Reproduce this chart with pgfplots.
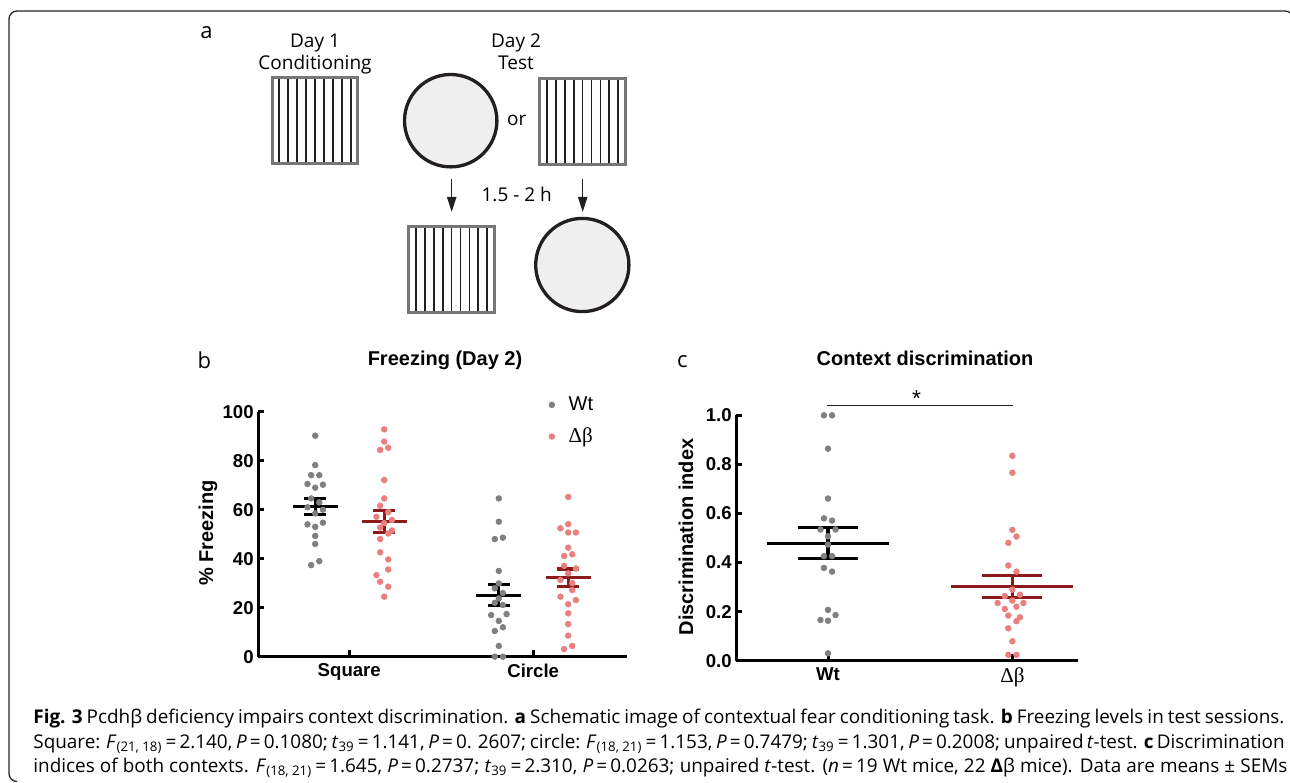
\documentclass[border=0pt]{standalone}
\usepackage{fontspec}
\setmainfont{Open Sans}
\newfontfamily\arial{Liberation Sans}
\newfontfamily\tnr{Liberation Serif}
\usepackage{pgfplots}
\pgfplotsset{compat=1.18}
\usetikzlibrary{arrows.meta}

\definecolor{wtgrey}{RGB}{128,128,128}
\definecolor{dbpink}{RGB}{233,128,128}
\definecolor{dbred}{RGB}{139,26,26}
\definecolor{boxgrey}{RGB}{118,118,118}
\definecolor{circfill}{RGB}{239,239,239}
\definecolor{ink}{RGB}{35,31,32}

\pgfplotsset{
  panel/.style={
    scale only axis, clip=false,
    axis x line=bottom, axis y line=left,
    axis line style={-, line width=1.5pt},
    tick align=inside, major tick length=3.2pt,
    tick style={black, line width=1.5pt},
    tick label style={font=\arial\bfseries\fontsize{9.3}{10}\selectfont},
    yticklabel style={inner sep=0pt, xshift=-2pt},
    xticklabel style={inner sep=0pt, yshift=-3.3pt},
    label style={font=\arial\bfseries\fontsize{10}{12}\selectfont},
  },
  wt/.style={only marks, mark=*, mark size=1.4pt, color=wtgrey, mark options={draw=none, fill=wtgrey}},
  db/.style={only marks, mark=*, mark size=1.4pt, color=dbpink, mark options={draw=none, fill=dbpink}},
  bar/.style={line width=1.55pt, forget plot},
}

\newcommand\stripebox[2]{%
  \foreach \k in {0,...,8} \draw[ink, line width=0.9pt] ({#1+7.1+\k*8.92},#2) -- ({#1+7.1+\k*8.92},{#2+85.6});
  \draw[boxgrey, line width=1.5pt] (#1,#2) rectangle ++(85.6,85.6);
}

\begin{document}
\begin{tikzpicture}
\path[use as bounding box] (0,0) rectangle (645pt,391pt);

% frame, schematic and labels (image pixel coordinates)
\begin{scope}[x=0.5pt, y=-0.5pt, yshift=391pt]
  \draw[black!85, line width=0.65pt, rounded corners=4pt] (16,781.5) -| (9,11) -| (1293,30);

  \stripebox{272.2}{77.5}
  \stripebox{539.8}{78.8}
  \stripebox{408.8}{226.8}
  \draw[ink, line width=1.65pt, fill=circfill] (450.7,120.7) circle[radius=46.2];
  \draw[ink, line width=1.65pt, fill=circfill] (582.3,265) circle[radius=46.6];
  \draw[ink, line width=0.7pt, -{Triangle[length=7.5pt, width=4.6pt]}] (451.7,179.3) -- (451.7,212);
  \draw[ink, line width=0.7pt, -{Triangle[length=7.5pt, width=4.6pt]}] (582.7,179.3) -- (582.7,212);

  \begin{scope}[every node/.style={font=\fontsize{9.5}{11}\selectfont, inner sep=0pt, anchor=base}]
    \node at (315,47.7) {Day 1};
    \node at (315,70) {Conditioning};
    \node at (516,47.7) {Day 2};
    \node at (516,70) {Test};
    \node at (516.7,126) {or};
    \node at (516.7,201.7) {1.5 - 2 h};
  \end{scope}
  \begin{scope}[every node/.style={font=\fontsize{11}{13}\selectfont, inner sep=0pt, anchor=base west}]
    \node at (200,38.3) {a};
    \node at (197.3,368.3) {b};
    \node at (676.7,367.3) {c};
  \end{scope}
  \begin{scope}[every node/.style={font=\arial\bfseries\fontsize{10}{12}\selectfont, inner sep=0pt, anchor=base}]
    \node at (445,365.5) {Freezing (Day 2)};
    \node at (925,365.5) {Context discrimination};
  \end{scope}
\end{scope}

% panel b
\begin{axis}[panel, at={(129pt,62.65pt)}, anchor=south west,
  width=184.35pt, height=122.5pt,
  xmin=-0.496, xmax=1.508, ymin=0, ymax=100,
  xtick={0,1}, xticklabels={Square,Circle},
  ytick={0,20,40,60,80,100}, yticklabels={0,20,40,60,80,100},
  ylabel={\% Freezing},
  ylabel style={at={(axis description cs:-0.1356,0.505)}, anchor=center},
  legend style={draw=none, fill=none, at={(axis cs:1.084,108)}, anchor=north west,
    font=\arial\fontsize{10}{12}\selectfont, row sep=3.2pt, inner sep=0pt},
  legend cell align=left,
  legend image code/.code={\draw[#1] plot coordinates {(0pt,0pt)};},
]
\addplot[wt] table {
x y
-0.185 90.2
-0.185 78.2
-0.207 74.1
-0.163 74.1
-0.227 70.5
-0.143 70.2
-0.185 69.0
-0.207 64.6
-0.163 63.0
-0.227 61.0
-0.143 60.0
-0.185 58.5
-0.227 54.0
-0.143 54.7
-0.185 53.0
-0.185 49.3
-0.185 46.0
-0.163 39.0
-0.207 37.4
0.813 64.6
0.813 55.1
0.791 48.0
0.835 48.6
0.813 35.0
0.813 29.9
0.791 27.9
0.835 26.0
0.813 23.8
0.791 22.0
0.835 21.1
0.771 17.0
0.855 17.4
0.813 14.6
0.835 12.0
0.791 10.5
0.813 4.4
0.791 0.0
0.835 0.0
};
\addlegendentry{\hspace{5pt}Wt}
\addplot[db] table {
x y
0.19 92.8
0.19 87.8
0.168 84.4
0.212 85.3
0.19 72.1
0.19 64.6
0.168 61.6
0.212 59.0
0.148 57.1
0.232 55.8
0.19 54.5
0.168 52.7
0.232 51.5
0.212 50.3
0.168 48.0
0.168 42.6
0.212 39.7
0.212 35.6
0.148 33.3
0.168 30.6
0.212 28.6
0.19 24.5
1.19 65.2
1.19 54.1
1.148 52.4
1.19 50.7
1.232 50.7
1.19 44.5
1.168 41.1
1.212 41.8
1.168 37.1
1.232 36.0
1.19 34.0
1.148 31.3
1.212 30.0
1.212 27.2
1.148 24.5
1.232 23.1
1.19 21.4
1.19 17.7
1.19 13.3
1.19 8.6
1.212 4.4
1.168 3.1
};
\addlegendentry{\hspace{5pt}{\tnr\fontsize{10.5}{12}\selectfont Δβ}}
% means and SEMs
\addplot[bar, black] coordinates {(-0.307,61.4) (-0.063,61.4)};
\addplot[bar, black] coordinates {(-0.185,58.2) (-0.185,64.6)};
\addplot[bar, black] coordinates {(-0.245,58.2) (-0.125,58.2)};
\addplot[bar, black] coordinates {(-0.245,64.6) (-0.125,64.6)};
\addplot[bar, dbred] coordinates {(0.068,55.2) (0.312,55.2)};
\addplot[bar, dbred] coordinates {(0.19,50.7) (0.19,59.6)};
\addplot[bar, dbred] coordinates {(0.13,50.7) (0.25,50.7)};
\addplot[bar, dbred] coordinates {(0.13,59.6) (0.25,59.6)};
\addplot[bar, black] coordinates {(0.691,25.0) (0.935,25.0)};
\addplot[bar, black] coordinates {(0.813,20.8) (0.813,29.3)};
\addplot[bar, black] coordinates {(0.753,20.8) (0.873,20.8)};
\addplot[bar, black] coordinates {(0.753,29.3) (0.873,29.3)};
\addplot[bar, dbred] coordinates {(1.068,32.3) (1.312,32.3)};
\addplot[bar, dbred] coordinates {(1.19,28.6) (1.19,35.8)};
\addplot[bar, dbred] coordinates {(1.13,28.6) (1.25,28.6)};
\addplot[bar, dbred] coordinates {(1.13,35.8) (1.25,35.8)};
\end{axis}

% panel c
\begin{axis}[panel, at={(368pt,60.65pt)}, anchor=south west,
  width=171pt, height=122.7pt,
  xmin=-0.499, xmax=1.356, ymin=0, ymax=1,
  xtick={0,1}, xticklabels={Wt,{\tnr\mdseries\fontsize{10.5}{12}\selectfont Δβ}},
  ytick={0,0.2,0.4,0.6,0.8,1}, yticklabels={0.0,0.2,0.4,0.6,0.8,1.0},
  ylabel={Discrimination index},
  ylabel style={at={(axis description cs:-0.146,0.504)}, anchor=center},
]
\addplot[wt] table {
x y
-0.022 1.0
0.022 1.0
0 0.864
0 0.661
-0.022 0.580
0.022 0.571
-0.041 0.535
0.041 0.535
0 0.507
0 0.473
-0.022 0.426
0.022 0.426
-0.022 0.378
0.022 0.363
0 0.207
-0.041 0.166
0 0.163
0.041 0.186
0 0.030
};
\addplot[db] table {
x y
1 0.835
1 0.766
1 0.533
1.022 0.506
0.978 0.480
0.978 0.388
1.022 0.363
1 0.290
0.959 0.263
1.041 0.269
1 0.245
0.92 0.235
1.06 0.235
1.022 0.220
0.959 0.211
0.978 0.184
1.041 0.177
1.022 0.161
0.978 0.132
1 0.079
0.978 0.024
1.022 0.024
};
\addplot[bar, black] coordinates {(-0.331,0.476) (0.331,0.476)};
\addplot[bar, black] coordinates {(0,0.415) (0,0.541)};
\addplot[bar, black] coordinates {(-0.163,0.415) (0.163,0.415)};
\addplot[bar, black] coordinates {(-0.163,0.541) (0.163,0.541)};
\addplot[bar, dbred] coordinates {(0.669,0.302) (1.331,0.302)};
\addplot[bar, dbred] coordinates {(1,0.256) (1,0.347)};
\addplot[bar, dbred] coordinates {(0.837,0.256) (1.163,0.256)};
\addplot[bar, dbred] coordinates {(0.837,0.347) (1.163,0.347)};
% significance
\addplot[forget plot, ink, line width=0.65pt] coordinates {(-0.004,1.039) (1.006,1.039)};
\node[anchor=base, inner sep=0pt, font=\arial\fontsize{11.5}{13}\selectfont] at (axis cs:0.48,1.036) {*};
\end{axis}

% caption
\begin{scope}[every node/.style={anchor=base west, inner sep=0pt, font=\fontsize{9.45}{11}\selectfont}]
\node at (16.5pt,29.5pt) {\makebox[625.5pt][s]{\textbf{Fig. 3} Pcdhβ deficiency impairs context discrimination. \textbf{a} Schematic image of contextual fear conditioning task. \textbf{b} Freezing levels in test sessions.}};
\node at (16.5pt,17pt) {\makebox[624pt][s]{Square: \textit{F}\textsubscript{(21, 18)}\,=\,2.140, \textit{P}\,=\,0.1080; \textit{t}\textsubscript{39}\,=\,1.141, \textit{P}\,=\,0. 2607; circle: \textit{F}\textsubscript{(18, 21)}\,=\,1.153, \textit{P}\,=\,0.7479; \textit{t}\textsubscript{39}\,=\,1.301, \textit{P}\,=\,0.2008; unpaired \textit{t}-test. \textbf{c} Discrimination}};
\node at (16.5pt,5pt) {\makebox[627pt][s]{indices of both contexts. \textit{F}\textsubscript{(18, 21)}\,=\,1.645, \textit{P}\,=\,0.2737; \textit{t}\textsubscript{39}\,=\,2.310, \textit{P}\,=\,0.0263; unpaired \textit{t}-test. (\textit{n}\,=\,19 Wt mice, 22 \textbf{Δ}β mice). Data are means ± SEMs}};
\end{scope}
\end{tikzpicture}
\end{document}
